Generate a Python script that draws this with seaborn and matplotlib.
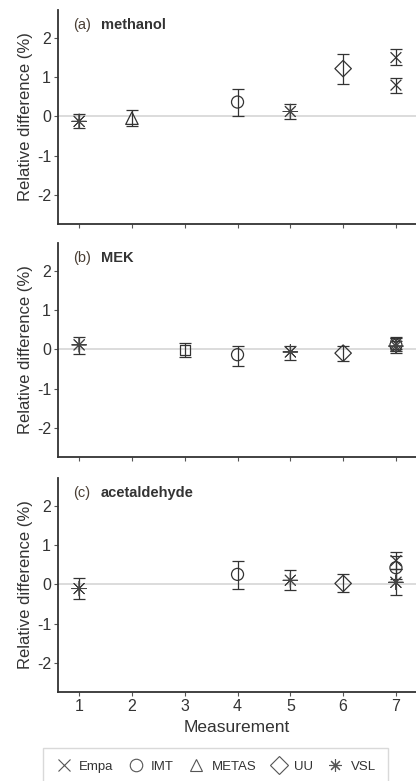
import pandas as pd
import numpy as np
import matplotlib.pyplot as plt
from matplotlib.lines import Line2D
import seaborn as sns

# values
panels = ["(a)", "(b)", "(c)"]
compounds = ["methanol", "MEK", "acetaldehyde"]

panel = ["(a)"] * 7 + ["(b)"] * 8 + ["(c)"] * 7
measurement = [1, 2, 4, 5, 6, 7, 7,
               1, 3, 4, 5, 6, 7, 7, 7,
               1, 4, 5, 6, 7, 7, 7]
lab = ["VSL", "METAS", "IMT", "VSL", "UU", "Empa", "Empa",
       "VSL", "Other", "IMT", "VSL", "UU", "Empa", "VSL", "IMT",
       "VSL", "IMT", "VSL", "UU", "Empa", "IMT", "VSL"]
rel_diff = [-0.13, -0.05, 0.36, 0.12, 1.21, 1.49, 0.79,
            0.11, -0.02, -0.14, -0.07, -0.10, 0.14, 0.08, 0.10,
            -0.11, 0.25, 0.10, 0.02, 0.60, 0.42, 0.05]
lower = [-0.31, -0.26, 0.00, -0.06, 0.83, 1.30, 0.60,
         -0.13, -0.21, -0.43, -0.27, -0.30, -0.04, -0.10, 0.00,
         -0.38, -0.13, -0.15, -0.21, 0.38, 0.12, -0.28]
upper = [0.05, 0.15, 0.70, 0.31, 1.58, 1.70, 0.96,
         0.30, 0.17, 0.08, 0.08, 0.08, 0.32, 0.28, 0.22,
         0.17, 0.59, 0.35, 0.25, 0.82, 0.72, 0.38]

legend_labs = ["Empa", "IMT", "METAS", "UU", "VSL"]

df = pd.DataFrame({
    "panel": panel,
    "measurement": measurement,
    "lab": lab,
    "rel_diff": rel_diff,
    "lower": lower,
    "upper": upper,
})

markers = {
    "Empa": "x",
    "IMT": "o",
    "METAS": "^",
    "UU": "D",
    "VSL": (8, 2, 0),
    "Other": "s",
}
sizes = {"Empa": 60, "IMT": 75, "METAS": 80, "UU": 70, "VSL": 110, "Other": 50}

sns.set_theme(style="ticks")
plt.rcParams["font.family"] = ["Liberation Sans", "DejaVu Sans"]
plt.rcParams["axes.unicode_minus"] = False

dark = "#333333"

fig = plt.figure(figsize=(4.16, 7.81), dpi=100)

tops = [10, 243, 478]
height = 214
left = 58

for i, (p, comp) in enumerate(zip(panels, compounds)):
    ax = fig.add_axes([left / 416, 1 - (tops[i] + height) / 781,
                       (416 - left) / 416, height / 781])
    sub = df[df["panel"] == p]

    ax.axhline(0, color="#d9d9d9", lw=1.3, zorder=0)

    ax.errorbar(
        sub["measurement"], sub["rel_diff"],
        yerr=[sub["rel_diff"] - sub["lower"], sub["upper"] - sub["rel_diff"]],
        fmt="none", ecolor=dark, elinewidth=0.9, capsize=4.2, capthick=0.9,
        zorder=2,
    )

    for name, grp in sub.groupby("lab"):
        sns.scatterplot(
            data=grp, x="measurement", y="rel_diff",
            marker=markers[name], s=sizes[name],
            ax=ax, legend=False, zorder=3,
        )
        coll = ax.collections[-1]
        coll.set_facecolor("none")
        coll.set_edgecolor(dark if name != "VSL" else "#444444")
        coll.set_linewidth(0.9 if name != "VSL" else 0.7)

    ax.set_xlim(0.6, 7.38)
    ax.set_ylim(-2.74, 2.7)
    ax.set_xticks(range(1, 8))
    ax.set_yticks([-2, -1, 0, 1, 2])
    ax.tick_params(length=3, width=0.8, color="#555555",
                   labelsize=11.5, labelcolor=dark, pad=2)
    for s in ["top", "right"]:
        ax.spines[s].set_visible(False)
    for s in ["left", "bottom"]:
        ax.spines[s].set_color(dark)
        ax.spines[s].set_linewidth(1.3)

    ax.set_ylabel("Relative difference (%)", fontsize=12, color=dark, labelpad=3)
    if i < 2:
        ax.set_xticklabels([])
        ax.set_xlabel("")
    else:
        ax.set_xlabel("Measurement", fontsize=12.5, color=dark, labelpad=4)

    ax.text(0.042, 0.93, p, transform=ax.transAxes, fontsize=10.5,
            color="#4a3f35", va="center", ha="left")
    ax.text(0.12, 0.93, comp, transform=ax.transAxes, fontsize=10.5,
            color=dark, fontweight="bold", va="center", ha="left")

handles = [
    Line2D([], [], ls="none", marker=markers[n], markersize=9,
           markerfacecolor="none", markeredgecolor="#555555",
           markeredgewidth=0.8, label=n)
    for n in legend_labs
]
leg = fig.legend(
    handles=handles, loc="upper center", bbox_to_anchor=(0.518, 1 - 748 / 781),
    ncol=5, fontsize=9.5, frameon=True, fancybox=False,
    handletextpad=0.5, columnspacing=1.05, handlelength=1.3,
    borderpad=0.95, borderaxespad=0,
)
leg.get_frame().set_edgecolor("#d0d0d0")
leg.get_frame().set_linewidth(1.0)
for t in leg.get_texts():
    t.set_color(dark)

plt.savefig("out.png", dpi=100)
